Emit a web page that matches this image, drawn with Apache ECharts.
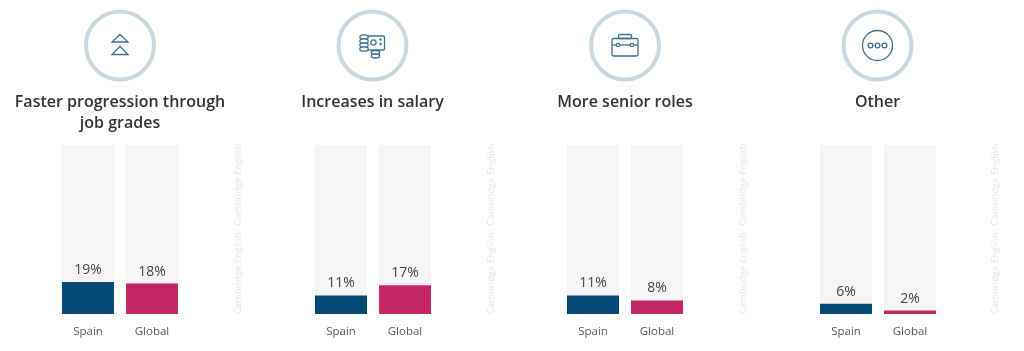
<!DOCTYPE html>
<html>
<head>
<meta charset="utf-8">
<style>
    html, body { margin: 0; padding: 0; background: #ffffff; }
    #myChart { width: 1024px; height: 351px; }
</style>
</head>
<body>
<div id="myChart"></div>
<script src="https://cdn.jsdelivr.net/npm/echarts@6/dist/echarts.min.js"></script>
<script>
    var categories = ['Spain', 'Global'];
    var titles = ['Faster progression through\njob grades', 'Increases in salary', 'More senior roles', 'Other'];
    var spainValues = [19, 11, 11, 6];
    var globalValues = [18, 17, 8, 2];
    var watermark = 'Cambridge English';

    var fontName = '"Open Sans", sans-serif';
    var barColors = ['#004a75', '#c42565'];
    var iconColor = '#3f7190';
    var gridLefts = [56, 309, 561, 814];
    var iconCenters = [120, 372.5, 625, 877.5];
    var markX = [238, 491, 743, 995];

    var grids = [], xAxes = [], yAxes = [], series = [], graphics = [];

    function line(extra) {
        extra.silent = true;
        extra.style = extra.style || { fill: 'none', stroke: iconColor, lineWidth: 1.3 };
        return extra;
    }

    // small pictograms in the circles, drawn relative to each circle
    function upIcon(cx) {
        return [
            line({ type: 'polygon', shape: { points: [[cx, 34.5], [cx + 8, 42], [cx - 8, 42]] } }),
            line({ type: 'polygon', shape: { points: [[cx, 46.5], [cx + 8, 54.5], [cx - 8, 54.5]] } })
        ];
    }
    function coinIcon(cx) {
        var out = [
            line({ type: 'rect', shape: { x: cx - 5, y: 36, width: 17, height: 14, r: 1 } }),
            line({ type: 'circle', shape: { cx: cx + 1, cy: 42.5, r: 2.6 } }),
            line({ type: 'circle', shape: { cx: cx + 8, cy: 39.5, r: 0.6 } }),
            line({ type: 'circle', shape: { cx: cx + 8, cy: 44, r: 0.6 } })
        ];
        [37, 41, 45, 49].forEach(function (y) {
            out.push(line({ type: 'ellipse', shape: { cx: cx - 8.5, cy: y, rx: 4.2, ry: 2.2 }, style: { fill: '#ffffff', stroke: iconColor, lineWidth: 1.3 } }));
        });
        [52.5, 56].forEach(function (y) {
            out.push(line({ type: 'ellipse', shape: { cx: cx + 3, cy: y, rx: 4.2, ry: 2 }, style: { fill: '#ffffff', stroke: iconColor, lineWidth: 1.3 } }));
        });
        return out;
    }
    function caseIcon(cx) {
        return [
            line({ type: 'rect', shape: { x: cx - 6.5, y: 34.5, width: 13, height: 4, r: 1 } }),
            line({ type: 'rect', shape: { x: cx - 13, y: 38.5, width: 26, height: 17.5, r: 1.5 } }),
            line({ type: 'line', shape: { x1: cx - 13, y1: 45, x2: cx + 13, y2: 45 } }),
            line({ type: 'circle', shape: { cx: cx - 7, cy: 45, r: 1.7 }, style: { fill: '#ffffff', stroke: iconColor, lineWidth: 1.3 } }),
            line({ type: 'circle', shape: { cx: cx + 7, cy: 45, r: 1.7 }, style: { fill: '#ffffff', stroke: iconColor, lineWidth: 1.3 } })
        ];
    }
    function moreIcon(cx) {
        return [
            line({ type: 'circle', shape: { cx: cx, cy: 45.5, r: 15 } }),
            line({ type: 'circle', shape: { cx: cx - 7, cy: 45.5, r: 2.4 } }),
            line({ type: 'circle', shape: { cx: cx, cy: 45.5, r: 2.4 } }),
            line({ type: 'circle', shape: { cx: cx + 7, cy: 45.5, r: 2.4 } })
        ];
    }
    var icons = [upIcon, coinIcon, caseIcon, moreIcon];

    titles.forEach(function (title, i) {
        grids.push({ left: gridLefts[i], top: 145, width: 128, height: 169 });
        xAxes.push({
            type: 'category',
            gridIndex: i,
            data: categories,
            axisLine: { show: false },
            axisTick: { show: false },
            axisLabel: { color: '#5a5a5a', fontSize: 11.5, fontFamily: fontName, margin: 12 }
        });
        yAxes.push({ type: 'value', gridIndex: i, min: 0, max: 100, show: false });
        series.push({
            type: 'bar',
            xAxisIndex: i,
            yAxisIndex: i,
            barWidth: 52,
            animation: false,
            data: [spainValues[i], globalValues[i]],
            showBackground: true,
            backgroundStyle: { color: '#f5f5f6' },
            itemStyle: {
                color: function (p) { return barColors[p.dataIndex]; }
            },
            label: {
                show: true,
                position: 'top',
                distance: 5,
                formatter: '{c}%',
                color: '#444444',
                fontSize: 14,
                fontFamily: fontName
            }
        });

        graphics.push({
            type: 'circle',
            silent: true,
            shape: { cx: iconCenters[i], cy: 45.5, r: 34 },
            style: { fill: '#ffffff', stroke: '#c9d7df', lineWidth: 4 }
        });
        graphics = graphics.concat(icons[i](iconCenters[i]));
        graphics.push({
            type: 'text',
            silent: true,
            x: iconCenters[i],
            y: 92,
            style: {
                text: title,
                align: 'center',
                verticalAlign: 'top',
                lineHeight: 21,
                fill: '#333333',
                font: '600 16px ' + fontName
            }
        });
        [184.5, 273].forEach(function (y) {
            graphics.push({
                type: 'text',
                silent: true,
                x: markX[i],
                y: y,
                rotation: Math.PI / 2,
                style: {
                    text: watermark,
                    align: 'center',
                    verticalAlign: 'middle',
                    fill: '#e6e6e6',
                    font: '9.5px ' + fontName
                }
            });
        });
    });

    var myChart = echarts.init(document.getElementById('myChart'));
    myChart.setOption({
        backgroundColor: '#ffffff',
        animation: false,
        grid: grids,
        xAxis: xAxes,
        yAxis: yAxes,
        series: series,
        graphic: graphics
    });
</script>
</body>
</html>
